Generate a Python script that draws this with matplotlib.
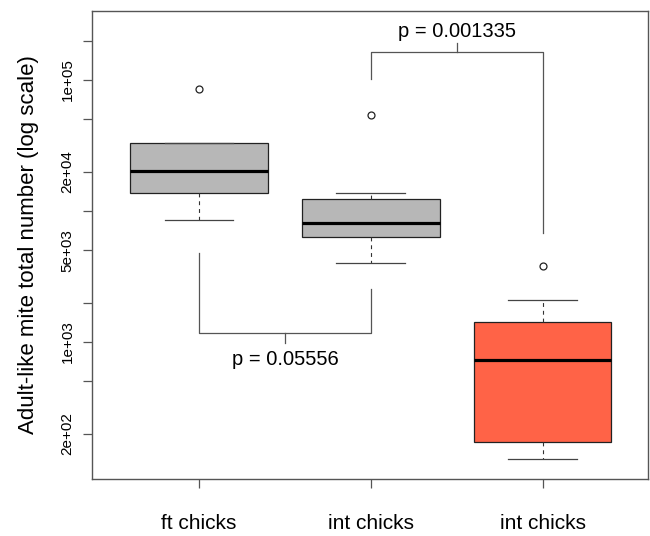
import numpy as np
import matplotlib.pyplot as plt
from matplotlib.ticker import FixedLocator, FixedFormatter, NullLocator

plt.rcParams['font.family'] = ['Liberation Sans', 'DejaVu Sans']

# summary stats (mite counts)
groups = ['ft chicks', 'int chicks', 'int chicks']
whislo = [8540, 4030, 129]
q1 = [13800, 6300, 173]
med = [20300, 8060, 733]
q3 = [32860, 12410, 1429]
whishi = [33200, 13650, 2094]
fliers = [[85900], [54300], [3800]]
box_colors = ['#B7B7B7', '#B7B7B7', '#FF6347']

yticks = [2e2, 5e2, 1e3, 2e3, 5e3, 1e4, 2e4, 5e4, 1e5, 2e5]
ytick_labels = ['2e+02', '', '1e+03', '', '5e+03', '', '2e+04', '', '1e+05', '']

p_labels = ['p = 0.05556', 'p = 0.001335']

fig = plt.figure(figsize=(6.5, 5.36), dpi=100)
ax = fig.add_axes([92/650, 1 - 479/536, 556/650, 468/536])

stats = []
for i in range(len(groups)):
    stats.append(dict(whislo=whislo[i], q1=q1[i], med=med[i], q3=q3[i],
                      whishi=whishi[i], fliers=fliers[i]))
pos = np.arange(1, len(groups) + 1)
bp = ax.bxp(stats, positions=pos, widths=0.8, capwidths=0.4, patch_artist=True,
            boxprops=dict(edgecolor='#222222', linewidth=0.9),
            medianprops=dict(color='black', linewidth=2.3),
            whiskerprops=dict(color='#333333', linewidth=0.8, linestyle=(0, (3.5, 3.5))),
            capprops=dict(color='#444444', linewidth=0.9),
            flierprops=dict(marker='o', markersize=5, markerfacecolor='none',
                            markeredgecolor='#222222', markeredgewidth=0.9))
for patch, c in zip(bp['boxes'], box_colors):
    patch.set_facecolor(c)

# significance brackets
lc = '#555555'
# ft vs int (below)
ax.plot([1, 1, 2, 2], [4750, 1178, 1178, 2520], color=lc, lw=0.9)
ax.plot([1.5, 1.5], [1178, 988], color=lc, lw=0.9)
ax.text(1.5, 733, p_labels[0], ha='center', va='center', fontsize=14.5)
# int vs int (above)
ax.plot([2, 2, 3, 3], [101000, 164500, 164500, 6760], color=lc, lw=0.9)
ax.plot([2.5, 2.5], [164500, 192800], color=lc, lw=0.9)
ax.text(2.5, 234000, p_labels[1], ha='center', va='center', fontsize=14.5)

ax.set_yscale('log')
ax.set_ylim(90, 336000)
ax.set_xlim(0.377, 3.613)
ax.yaxis.set_major_locator(FixedLocator(yticks))
ax.yaxis.set_major_formatter(FixedFormatter(ytick_labels))
ax.yaxis.set_minor_locator(NullLocator())
ax.set_xticks(pos)
ax.set_xticklabels(groups, fontsize=15)
ax.tick_params(axis='x', length=6.5, width=0.9, color='#555555', pad=19)
ax.tick_params(axis='y', length=6.5, width=0.9, color='#555555', pad=6,
               labelsize=11, labelrotation=90)
for lab in ax.get_yticklabels():
    lab.set_va('center')

for s in ax.spines.values():
    s.set_color('#555555')
    s.set_linewidth(1.0)

ax.set_ylabel('Adult-like mite total number (log scale)', fontsize=16)
ax.yaxis.set_label_coords(-0.095, 0.5)

fig.savefig('out.png', dpi=100)
